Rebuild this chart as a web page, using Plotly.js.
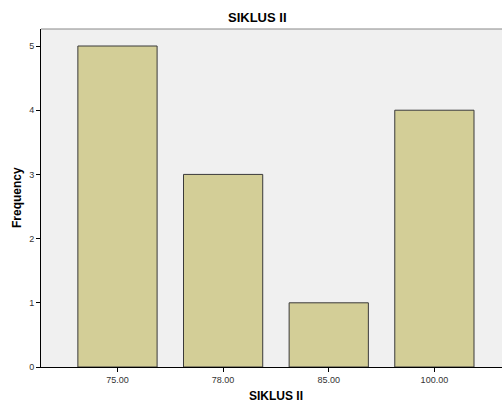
<!DOCTYPE html>
<html><head><meta charset="utf-8">
<script src="https://cdn.plot.ly/plotly-3.0.1.min.js"></script>
<style>html,body{margin:0;padding:0;background:#fff;overflow:hidden}#chart{width:502px;height:402px}</style>
</head><body><div id="chart"></div>
<script>
var categories = ["75.00", "78.00", "85.00", "100.00"];
var frequencies = [5, 3, 1, 4];
var yTicks = [0, 1, 2, 3, 4, 5];
var chartTitle = "SIKLUS II";
var xTitle = "SIKLUS II";
var yTitle = "Frequency";

var trace = {
  type: "bar",
  x: [0, 1, 2, 3],
  y: frequencies,
  width: 0.75,
  marker: {color: "#d3ce97", line: {color: "#3a3a3a", width: 1}},
  hoverinfo: "none"
};
var layout = {
  width: 502, height: 402,
  margin: {l: 41, r: 0, t: 29, b: 35, pad: 0},
  paper_bgcolor: "#ffffff",
  plot_bgcolor: "#f0f0f0",
  showlegend: false,
  font: {family: "Liberation Sans, Arial, sans-serif", color: "#333"},
  xaxis: {
    range: [-0.724, 3.64],
    tickvals: [0, 1, 2, 3], ticktext: categories,
    ticks: "outside", ticklen: 4, tickcolor: "#000", tickwidth: 1,
    showline: true, linecolor: "#000", linewidth: 1,
    showgrid: false, zeroline: false,
    tickfont: {size: 9, color: "#333"}
  },
  yaxis: {
    range: [0, 5.265],
    tickvals: yTicks,
    ticks: "outside", ticklen: 4, tickcolor: "#000", tickwidth: 1,
    showline: true, linecolor: "#000", linewidth: 1,
    showgrid: false, zeroline: false,
    tickfont: {size: 9, color: "#333"}
  },
  shapes: [{type: "line", xref: "paper", yref: "paper", x0: 0, x1: 1, y0: 1, y1: 1,
            line: {color: "#888", width: 1}}],
  annotations: [
    {text: "<b>" + chartTitle + "</b>", xref: "paper", yref: "paper",
     x: (257 - 41) / 461, y: 1, yshift: 12, showarrow: false,
     font: {size: 13, color: "#000"}, xanchor: "center", yanchor: "middle"},
    {text: "<b>" + xTitle + "</b>", xref: "paper", yref: "paper",
     x: (276 - 41) / 461, y: 0, yshift: -29, showarrow: false,
     font: {size: 12, color: "#000"}, xanchor: "center", yanchor: "middle"},
    {text: "<b>" + yTitle + "</b>", xref: "paper", yref: "paper",
     x: 0, xshift: -24, y: 0.5, textangle: -90, showarrow: false,
     font: {size: 12, color: "#000"}, xanchor: "center", yanchor: "middle"}
  ]
};
Plotly.newPlot("chart", [trace], layout, {displayModeBar: false, staticPlot: true});
</script></body></html>
